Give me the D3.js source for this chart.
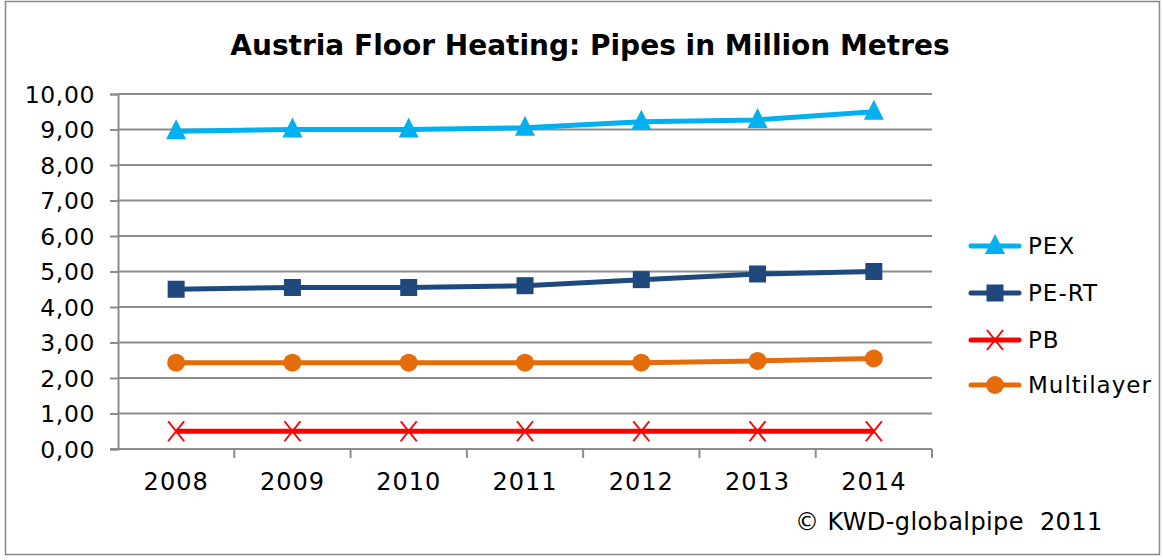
<!DOCTYPE html>
<html>
  <head>
    <title>Austria Floor Heating</title>
    <script src="https://d3js.org/d3.v7.min.js"></script>
    <style>
      body { margin: 0; background: #fff; }
      text { font-family: "DejaVu Sans", Verdana, sans-serif; fill: #000; }
    </style>
  </head>
  <body>
    <script>
      var years = ["2008", "2009", "2010", "2011", "2012", "2013", "2014"];
      var pex = [8.95, 9.0, 9.0, 9.05, 9.22, 9.27, 9.5];
      var pert = [4.5, 4.55, 4.55, 4.6, 4.77, 4.93, 5.0];
      var pb = [0.5, 0.5, 0.5, 0.5, 0.5, 0.5, 0.5];
      var multilayer = [2.43, 2.43, 2.43, 2.43, 2.43, 2.48, 2.55];
      var yTicks = [0, 1, 2, 3, 4, 5, 6, 7, 8, 9, 10];

      var series = [
        {name: "PEX", values: pex, color: "#00b0f0", marker: "triangle"},
        {name: "PE-RT", values: pert, color: "#1f497d", marker: "square"},
        {name: "PB", values: pb, color: "#ff0000", marker: "cross"},
        {name: "Multilayer", values: multilayer, color: "#e46c0a", marker: "circle"}
      ];

      var width = 1163, height = 560;
      var plotLeft = 118, plotRight = 932, plotTop = 94, plotBottom = 449;

      var svg = d3.select("body").append("svg")
          .attr("width", width)
          .attr("height", height);

      svg.append("rect")
          .attr("x", 5.5).attr("y", 1.5)
          .attr("width", 1154).attr("height", 553)
          .attr("fill", "none")
          .attr("stroke", "#888")
          .attr("stroke-width", 1.5);

      svg.append("text")
          .attr("x", 590).attr("y", 55)
          .attr("text-anchor", "middle")
          .style("font-size", "28px")
          .style("font-weight", "bold")
          .text("Austria Floor Heating: Pipes in Million Metres");

      var x = d3.scaleBand().domain(years).range([plotLeft, plotRight]);
      var y = d3.scaleLinear().domain([0, 10]).range([plotBottom, plotTop]);

      // grid
      svg.append("g").selectAll("line")
        .data(yTicks.filter(function(d) { return d > 0; }))
        .enter().append("line")
          .attr("x1", plotLeft).attr("x2", plotRight)
          .attr("y1", function(d) { return y(d); })
          .attr("y2", function(d) { return y(d); })
          .attr("stroke", "#8c8c8c")
          .attr("stroke-width", 2);

      var yAxis = d3.axisLeft(y).tickValues(yTicks).tickSize(8).tickPadding(15)
          .tickFormat(function(d) { return d3.format(".2f")(d).replace(".", ","); });
      var gy = svg.append("g").attr("transform", "translate(" + plotLeft + ",0)").call(yAxis);
      gy.select(".domain").attr("stroke", "#8c8c8c").attr("stroke-width", 2);
      gy.selectAll(".tick line").attr("stroke", "#8c8c8c").attr("stroke-width", 2);
      gy.selectAll("text").style("font-size", "23.5px").style("letter-spacing", "0.6px")
          .attr("dy", "0.36em").style("font-family", "'DejaVu Sans', sans-serif");

      var xAxis = d3.axisBottom(x).tickSize(0).tickPadding(24);
      var gx = svg.append("g").attr("transform", "translate(0," + plotBottom + ")").call(xAxis);
      gx.select(".domain").remove();
      gx.selectAll("text").style("font-size", "24px").style("letter-spacing", "1px")
          .style("font-family", "'DejaVu Sans', sans-serif");
      svg.append("line")
          .attr("x1", plotLeft - 8).attr("x2", plotRight)
          .attr("y1", plotBottom).attr("y2", plotBottom)
          .attr("stroke", "#8c8c8c").attr("stroke-width", 2);
      svg.append("g").selectAll("line")
        .data(years)
        .enter().append("line")
          .attr("x1", function(d) { return x(d) + x.step(); })
          .attr("x2", function(d) { return x(d) + x.step(); })
          .attr("y1", plotBottom).attr("y2", plotBottom + 9)
          .attr("stroke", "#8c8c8c").attr("stroke-width", 2);

      var cx = function(i) { return x(years[i]) + x.bandwidth() / 2; };
      var line = d3.line()
          .x(function(d, i) { return cx(i); })
          .y(function(d) { return y(d); });

      function drawMarker(g, type, color, px, py) {
        if (type === "triangle") {
          g.append("path")
              .attr("d", "M" + px + "," + (py - 12) + "L" + (px + 10) + "," + (py + 8) + "L" + (px - 10) + "," + (py + 8) + "Z")
              .attr("fill", color);
        } else if (type === "square") {
          g.append("rect").attr("x", px - 8.5).attr("y", py - 8.5)
              .attr("width", 17).attr("height", 17).attr("fill", color);
        } else if (type === "circle") {
          g.append("circle").attr("cx", px).attr("cy", py).attr("r", 9).attr("fill", color);
        } else {
          g.append("path")
              .attr("d", "M" + (px - 8) + "," + (py - 10) + "L" + (px + 8) + "," + (py + 10) +
                         "M" + (px + 8) + "," + (py - 10) + "L" + (px - 8) + "," + (py + 10))
              .attr("stroke", color).attr("stroke-width", 2).attr("fill", "none");
        }
      }

      var drawOrder = [3, 2, 1, 0];
      drawOrder.forEach(function(k) {
        var s = series[k];
        var g = svg.append("g");
        g.append("path")
            .datum(s.values)
            .attr("d", line)
            .attr("fill", "none")
            .attr("stroke", s.color)
            .attr("stroke-width", 5);
        s.values.forEach(function(v, i) {
          drawMarker(g, s.marker, s.color, cx(i), y(v));
        });
      });

      // legend
      var legendY = [246, 293, 340, 385];
      series.forEach(function(s, i) {
        var g = svg.append("g");
        var ly = legendY[i];
        g.append("line")
            .attr("x1", 971).attr("x2", 1019)
            .attr("y1", ly).attr("y2", ly)
            .attr("stroke", s.color).attr("stroke-width", 5)
            .attr("stroke-linecap", "round");
        drawMarker(g, s.marker, s.color, 995, ly);
        g.append("text")
            .attr("x", 1028).attr("y", ly)
            .attr("dy", "0.36em")
            .style("font-size", "23px")
            .style("letter-spacing", "1px")
            .text(s.name);
      });

      svg.append("text")
          .attr("x", 795).attr("y", 530)
          .style("font-size", "24px")
          .style("letter-spacing", "0.4px")
          .style("white-space", "pre")
          .text("\u00a9 KWD-globalpipe  2011");
    </script>
  </body>
</html>
